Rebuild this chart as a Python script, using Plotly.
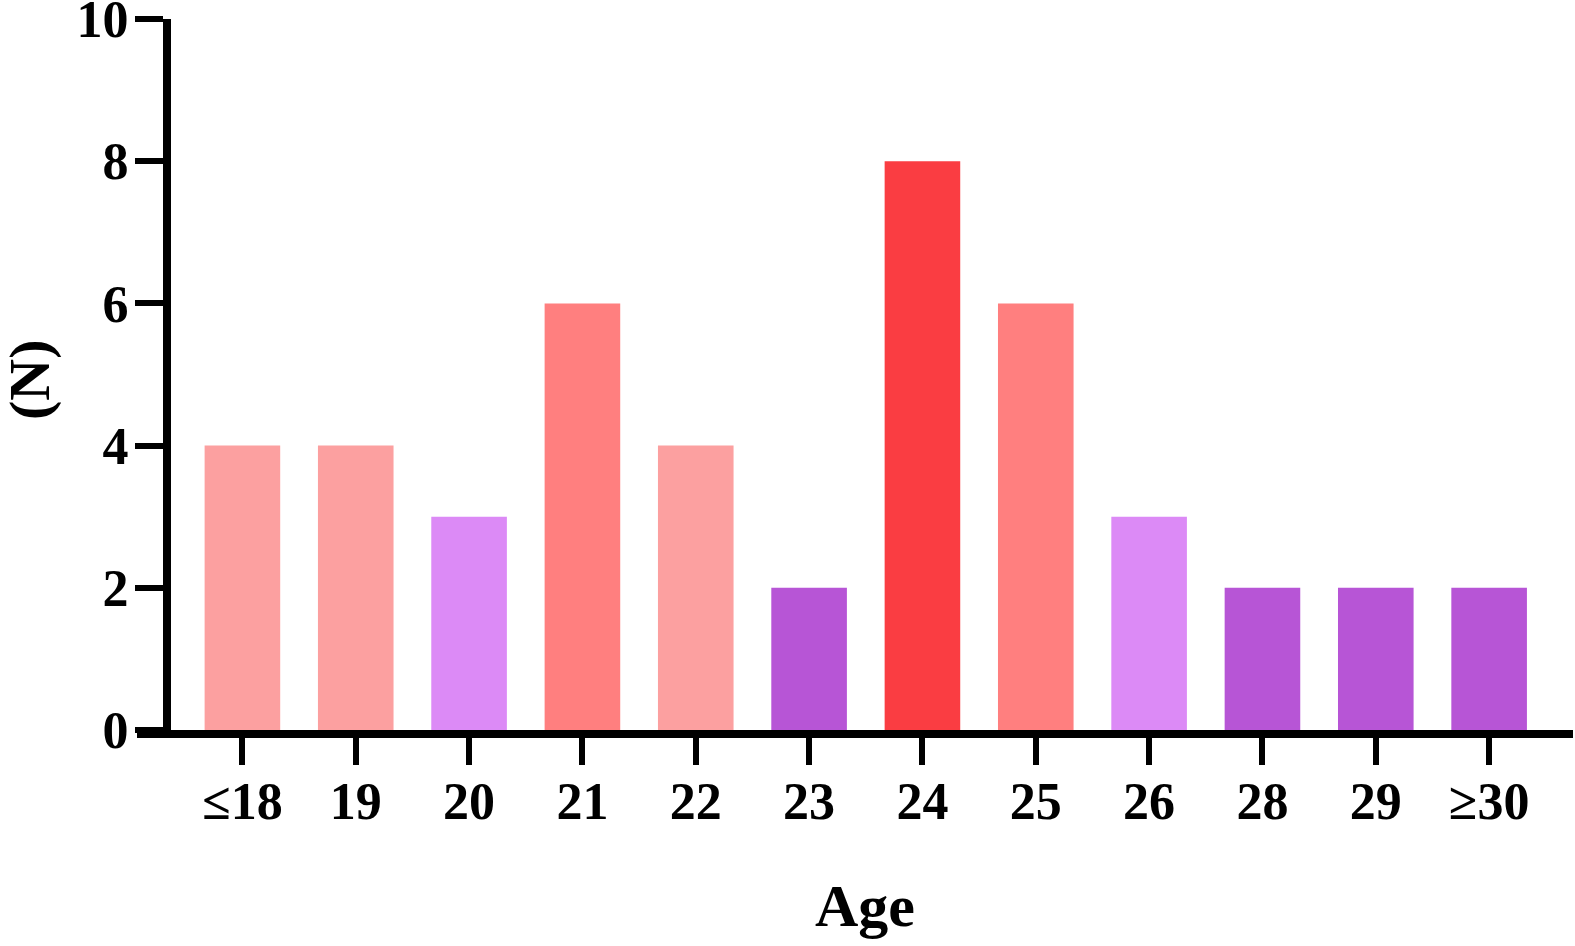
import plotly.graph_objects as go

categories = ["≤18", "19", "20", "21", "22", "23", "24", "25", "26", "28", "29", "≥30"]
counts = [4, 4, 3, 6, 4, 2, 8, 6, 3, 2, 2, 2]
bar_colors = ["#FCA0A0", "#FCA0A0", "#DC8AF6", "#FF7F7F", "#FCA0A0", "#B755D6",
              "#FA3D42", "#FF7F7F", "#DC8AF6", "#B755D6", "#B755D6", "#B755D6"]
y_ticks = [0, 2, 4, 6, 8, 10]

W, H = 1575, 946
ml, mr, mt, mb = 137, 2, 19, 216
plot_w = W - ml - mr
plot_h = H - mt - mb

font_family = "Liberation Serif"

fig = go.Figure()
fig.add_trace(go.Bar(
    x=list(range(len(categories))),
    y=counts,
    marker=dict(color=bar_colors, line=dict(width=0)),
    width=0.667,
    showlegend=False,
))

fig.update_layout(
    width=W, height=H,
    margin=dict(l=ml, r=mr, t=mt, b=mb, autoexpand=False),
    plot_bgcolor="white", paper_bgcolor="white",
    font=dict(family=font_family, color="black"),
    xaxis=dict(
        range=[-0.93, 11.74],
        tickmode="array",
        tickvals=list(range(len(categories))),
        ticktext=categories,
        automargin=False,
        showline=True, linecolor="black", linewidth=8,
        ticks="outside", ticklen=27, tickwidth=6, tickcolor="black",
        ticklabelstandoff=-8,
        tickfont=dict(family=font_family, size=52, color="black", weight="bold"),
        showgrid=False, zeroline=False,
    ),
    yaxis=dict(
        range=[0, 10],
        tickmode="array",
        tickvals=y_ticks,
        anchor="free",
        position=(167 - ml) / plot_w,
        automargin=False,
        ticklabeloverflow="allow",
        showline=True, linecolor="black", linewidth=8,
        ticks="outside", ticklen=28, tickwidth=6, tickcolor="black",
        ticklabelstandoff=-4,
        tickfont=dict(family=font_family, size=52, color="black", weight="bold"),
        showgrid=False, zeroline=False,
    ),
    annotations=[
        dict(text="<b>Age</b>", xref="paper", yref="paper",
             x=(865 - ml) / plot_w, y=((H - mb) - 906) / plot_h,
             xanchor="center", yanchor="middle", showarrow=False,
             font=dict(family=font_family, size=60, color="black")),
        dict(text="<b>(N)</b>", xref="paper", yref="paper",
             x=(29 - ml) / plot_w, y=((H - mb) - 380) / plot_h,
             xanchor="center", yanchor="middle", showarrow=False, textangle=-90,
             font=dict(family=font_family, size=58, color="black")),
    ],
)

fig.write_html(
    "out.html",
    config={"displayModeBar": False},
    post_script="document.body.style.margin='0px';document.body.style.overflow='hidden';",
)
